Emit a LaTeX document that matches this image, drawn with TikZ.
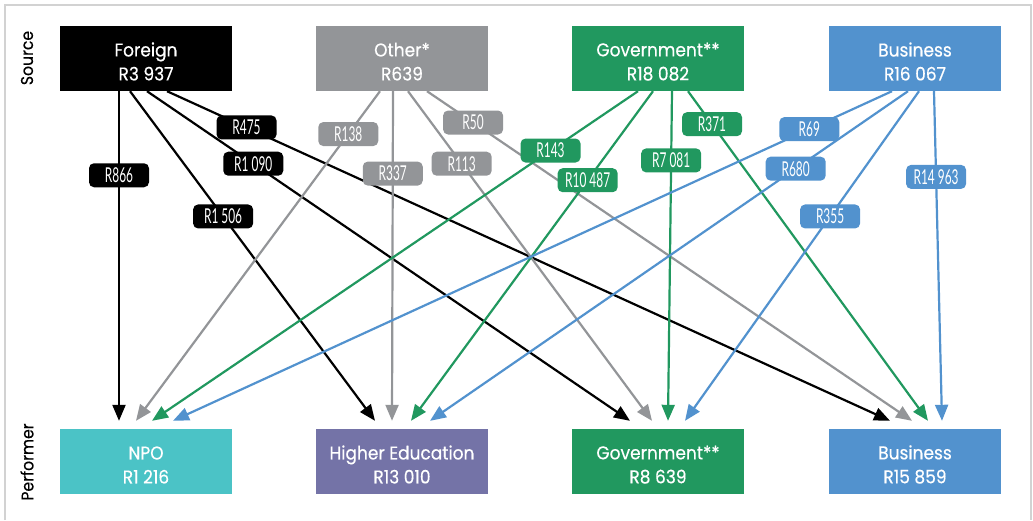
\documentclass[tikz,border=0pt]{standalone}
\usepackage{fontspec}
\setmainfont[FakeStretch=0.92, FakeBold=0.4]{Poppins}
\newfontfamily\condfont[FakeStretch=0.58]{Lato}
\usetikzlibrary{arrows.meta, positioning}
\definecolor{cforeign}{RGB}{0, 0, 0}
\definecolor{cother}{RGB}{147, 149, 152}
\definecolor{cgov}{RGB}{33, 152, 95}
\definecolor{cbus}{RGB}{82, 146, 206}
\definecolor{cnpo}{RGB}{75, 195, 198}
\definecolor{chigher}{RGB}{116, 115, 167}
\definecolor{cframe}{RGB}{210, 210, 210}
\newcommand{\topstrut}{\rule{0pt}{20pt}}

\begin{document}
\begin{tikzpicture}[x=1pt, y=-1pt,
    box/.style={minimum width=172pt, minimum height=65pt, inner sep=0pt, align=center, text=white, font=\fontsize{18.5}{24}\selectfont},
    amount/.style={rounded corners=5pt, minimum width=60pt, minimum height=24pt, inner sep=0pt, text=white, font=\condfont\fontsize{20.5}{20}\selectfont},
    flow/.style={line width=2.2pt, -{Triangle[length=16pt, width=13pt]}},
    side/.style={rotate=90, font=\fontsize{17}{17}\selectfont}]
    \useasboundingbox (0,0) rectangle (1033,520);
    % Frame
    \draw[cframe, line width=2pt] (5,520) -- (5,5) -- (1031,5) -- (1031,520);

    % Side labels
    \node[side] (source) at (27,58) {Source};
    \node[side] (performer) at (27,462) {Performer};

    % Sources
    \node[box, fill=cforeign] (srcForeign) at (146,58.5) {\topstrut Foreign\\R3 937};
    \node[box, fill=cother] (srcOther) at (402,58.5) {\topstrut Other*\\R639};
    \node[box, fill=cgov] (srcGov) at (658,58.5) {\topstrut Government**\\R18 082};
    \node[box, fill=cbus] (srcBus) at (915,58.5) {\topstrut Business\\R16 067};

    % Performers
    \node[box, fill=cnpo] (perfNPO) at (146,461.5) {\topstrut NPO\\R1 216};
    \node[box, fill=chigher] (perfHigher) at (402,461.5) {\topstrut Higher Education\\R13 010};
    \node[box, fill=cgov] (perfGov) at (658,461.5) {\topstrut Government**\\R8 639};
    \node[box, fill=cbus] (perfBus) at (915,461.5) {\topstrut Business\\R15 859};

    % Foreign flows
    \draw[flow, cforeign] ([xshift=-27pt]srcForeign.south) -- node[amount, fill=cforeign, pos=0.255] {R866} ([xshift=-27pt, yshift=8pt]perfNPO.north);
    \draw[flow, cforeign] ([xshift=-16pt]srcForeign.south) -- node[amount, fill=cforeign, pos=0.38] {R1 506} ([xshift=-27pt, yshift=8pt]perfHigher.north);
    \draw[flow, cforeign] ([xshift=1pt]srcForeign.south) -- node[amount, fill=cforeign, pos=0.22] {R1 090} ([xshift=-28pt, yshift=8pt]perfGov.north);
    \draw[flow, cforeign] ([xshift=21pt]srcForeign.south) -- node[amount, fill=cforeign, pos=0.11] {R475} ([xshift=-25pt, yshift=8pt]perfBus.north);

    % Other flows
    \draw[flow, cother] ([xshift=-22pt]srcOther.south) -- node[amount, fill=cother, pos=0.13] {R138} ([xshift=-10pt, yshift=8pt]perfNPO.north);
    \draw[flow, cother] ([xshift=-9pt]srcOther.south) -- node[amount, fill=cother, pos=0.25] {R337} ([xshift=-10pt, yshift=8pt]perfHigher.north);
    \draw[flow, cother] ([xshift=6pt]srcOther.south) -- node[amount, fill=cother, pos=0.22] {R113} ([xshift=-6pt, yshift=8pt]perfGov.north);
    \draw[flow, cother] ([xshift=25pt]srcOther.south) -- node[amount, fill=cother, pos=0.095] {R50} ([xshift=-3pt, yshift=8pt]perfBus.north);

    % Government flows
    \draw[flow, cgov] ([xshift=-20pt]srcGov.south) -- node[amount, fill=cgov, pos=0.18] {R143} ([xshift=6pt, yshift=8pt]perfNPO.north);
    \draw[flow, cgov] ([xshift=-5pt]srcGov.south) -- node[amount, fill=cgov, pos=0.27] {R10 487} ([xshift=9pt, yshift=8pt]perfHigher.north);
    \draw[flow, cgov] ([xshift=14pt]srcGov.south) -- node[amount, fill=cgov, pos=0.21] {R7 081} ([xshift=10pt, yshift=8pt]perfGov.north);
    \draw[flow, cgov] ([xshift=30pt]srcGov.south) -- node[amount, fill=cgov, pos=0.1] {R371} ([xshift=13pt, yshift=8pt]perfBus.north);

    % Business flows
    \draw[flow, cbus] ([xshift=-23pt]srcBus.south) -- node[amount, fill=cbus, pos=0.115] {R69} ([xshift=27pt, yshift=8pt]perfNPO.north);
    \draw[flow, cbus] ([xshift=-7pt]srcBus.south) -- node[amount, fill=cbus, pos=0.235] {R680} ([xshift=28pt, yshift=8pt]perfHigher.north);
    \draw[flow, cbus] ([xshift=4pt]srcBus.south) -- node[amount, fill=cbus, pos=0.38] {R355} ([xshift=27pt, yshift=8pt]perfGov.north);
    \draw[flow, cbus] ([xshift=19pt]srcBus.south) -- node[amount, fill=cbus, pos=0.26] {R14 963} ([xshift=27pt, yshift=8pt]perfBus.north);
\end{tikzpicture}
\end{document}
